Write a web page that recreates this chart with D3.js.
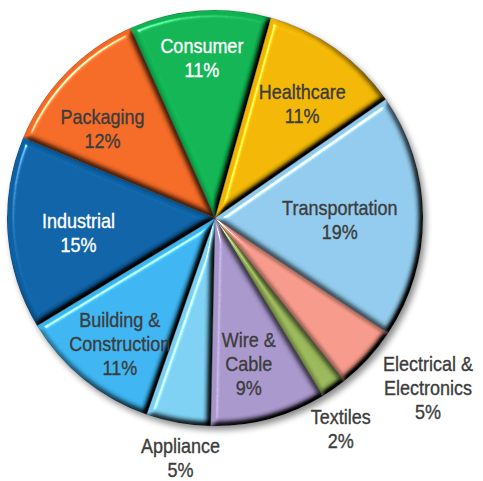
<!DOCTYPE html>
<html>
<head>
<meta charset="utf-8">
<script src="https://cdn.jsdelivr.net/npm/d3@7"></script>
<style>
  html, body { margin: 0; padding: 0; background: #fff; }
  svg { display: block; }
  text { font-family: "Liberation Sans", Arial, sans-serif; }
</style>
</head>
<body>
<script>
// ---- data ----
const categories = ["Consumer", "Healthcare", "Transportation", "Electrical &\nElectronics", "Textiles",
                    "Wire &\nCable", "Appliance", "Building &\nConstruction", "Industrial", "Packaging"];
const values = [11, 11, 19, 5, 2, 9, 5, 11, 15, 12];
const percentLabels = ["11%", "11%", "19%", "5%", "2%", "9%", "5%", "11%", "15%", "12%"];
const sliceColors = ["#0FB250", "#F0B503", "#8FC8EA", "#F39888", "#98B558",
                     "#A695C9", "#7BCEF1", "#3BB3EF", "#0C60A4", "#F26824"];
const labelTextColors = ["#ffffff", "#3c3c3c", "#3c3c3c", "#3c3c3c", "#3c3c3c",
                         "#3c3c3c", "#3c3c3c", "#3c3c3c", "#ffffff", "#3c3c3c"];

// ---- layout ----
const W = 483, H = 481;
const cx = 215, cy = 218, R = 208;
const startDeg = -24;
const labelRadiusFactor = [0.77, 0.69, 0.6, 1.31, 1.18, 0.72, 1.165, 0.76, 0.66, 0.69];
const labelAngleShift = [-0.5, 2, 1.5, -4, 4, 2, -2, -2, -2, -6];
const fontSize = 20, squeeze = 0.9, lineH = 24;

const svg = d3.select("body").append("svg").attr("width", W).attr("height", H);
const defs = svg.append("defs");

const shadow = defs.append("filter").attr("id", "shadow")
  .attr("x", "-20%").attr("y", "-20%").attr("width", "140%").attr("height", "140%");
shadow.append("feGaussianBlur").attr("stdDeviation", 3);

const bevel = defs.append("filter").attr("id", "bevel")
  .attr("x", "-10%").attr("y", "-10%").attr("width", "120%").attr("height", "120%")
  .attr("color-interpolation-filters", "sRGB");
bevel.append("feGaussianBlur").attr("in", "SourceAlpha").attr("stdDeviation", 3.4).attr("result", "blur");
const diff = bevel.append("feDiffuseLighting").attr("in", "blur").attr("surfaceScale", 6)
  .attr("diffuseConstant", 1.3).attr("lighting-color", "#fff").attr("result", "diff");
diff.append("feDistantLight").attr("azimuth", 225).attr("elevation", 50);
const spec = bevel.append("feSpecularLighting").attr("in", "blur").attr("surfaceScale", 6)
  .attr("specularConstant", 0.75).attr("specularExponent", 60).attr("lighting-color", "#fff").attr("result", "spec");
spec.append("feDistantLight").attr("azimuth", 225).attr("elevation", 50);
bevel.append("feComposite").attr("in", "SourceGraphic").attr("in2", "diff").attr("operator", "arithmetic")
  .attr("k1", 1).attr("k2", 0).attr("k3", 0).attr("k4", 0).attr("result", "shaded");
bevel.append("feComposite").attr("in", "spec").attr("in2", "SourceAlpha").attr("operator", "in").attr("result", "specIn");
bevel.append("feComposite").attr("in", "shaded").attr("in2", "specIn").attr("operator", "arithmetic")
  .attr("k1", 0).attr("k2", 1).attr("k3", 1).attr("k4", 0).attr("result", "lit");
bevel.append("feComposite").attr("in", "lit").attr("in2", "SourceAlpha").attr("operator", "in");

const color = d3.scaleOrdinal().domain(d3.range(categories.length)).range(sliceColors);

const pie = d3.pie().sort(null).value(d => d)
  .startAngle(startDeg * Math.PI / 180)
  .endAngle((startDeg + 360) * Math.PI / 180);
const arcs = pie(values);
const arc = d3.arc().innerRadius(0).outerRadius(R);

const g = svg.append("g").attr("transform", `translate(${cx},${cy})`);

// drop shadow
g.append("circle").attr("cx", 3).attr("cy", 4).attr("r", R)
  .attr("fill", "#000").attr("opacity", 0.45).attr("filter", "url(#shadow)");

g.selectAll("path.slice").data(arcs).enter().append("path")
  .attr("class", "slice")
  .attr("d", arc)
  .attr("fill", (d, i) => color(i))
  .attr("stroke", "rgba(40,40,40,0.45)")
  .attr("stroke-width", 0.8)
  .attr("filter", "url(#bevel)");

// labels
const lab = g.selectAll("text.lab").data(arcs).enter().append("text")
  .attr("class", "lab")
  .attr("text-anchor", "middle")
  .attr("font-size", fontSize)
  .attr("fill", (d, i) => labelTextColors[i])
  .attr("stroke", (d, i) => labelTextColors[i])
  .attr("stroke-width", 0.35);

lab.each(function(d, i) {
  const mid = (d.startAngle + d.endAngle) / 2 + labelAngleShift[i] * Math.PI / 180;
  const r = R * labelRadiusFactor[i];
  const x = r * Math.sin(mid), y = -r * Math.cos(mid);
  const lines = categories[i].split("\n").concat([percentLabels[i]]);
  const y0 = y - (lines.length - 1) * lineH / 2 + 7;
  const t = d3.select(this).attr("transform", `translate(${x},0) scale(${squeeze},1)`);
  lines.forEach((ln, k) => {
    t.append("tspan").attr("x", 0).attr("y", y0 + k * lineH).text(ln);
  });
});
</script>
</body>
</html>
